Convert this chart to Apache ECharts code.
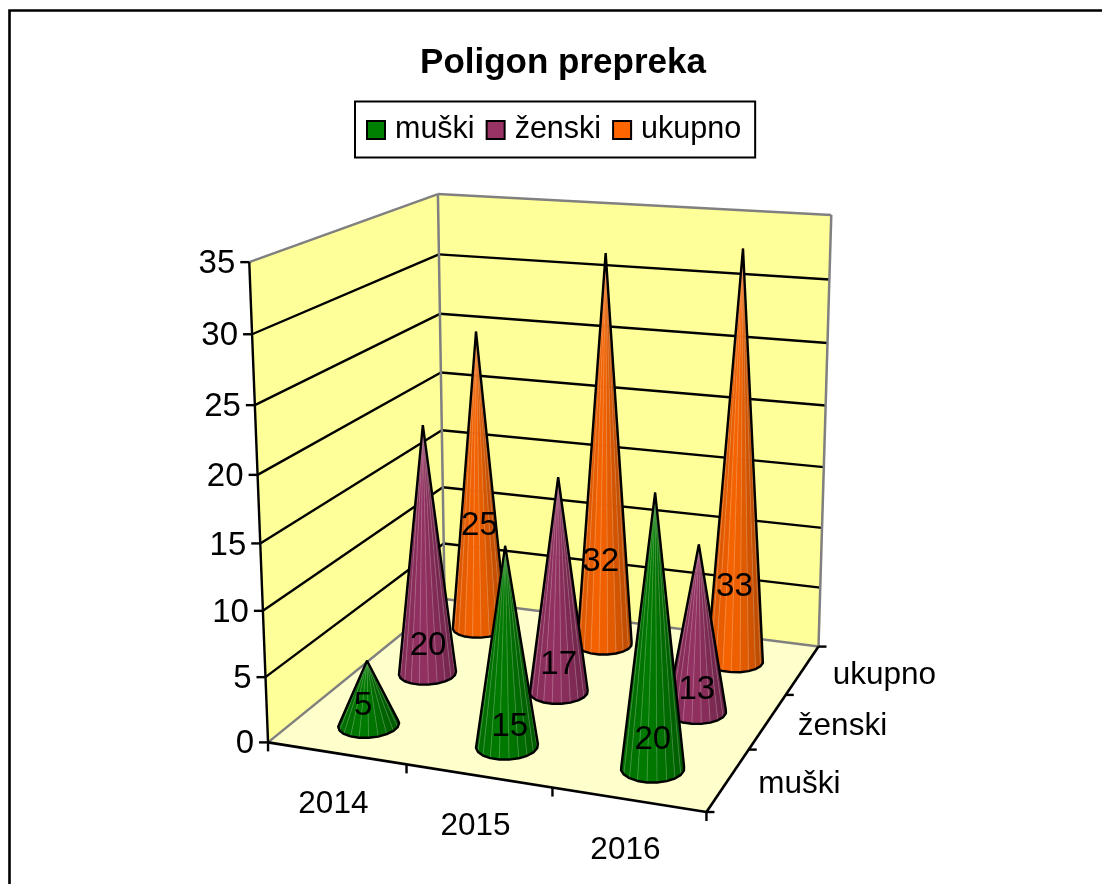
<!DOCTYPE html>
<html><head><meta charset="utf-8">
<style>html,body{margin:0;padding:0;background:#fff}#c{width:1102px;height:884px}</style>
<script src="https://cdn.jsdelivr.net/npm/echarts@6/dist/echarts.min.js"></script>
</head><body><div id="c"></div>
<script>
// ---- data ----
const years = ['2014', '2015', '2016'];
const seriesNames = ['muški', 'ženski', 'ukupno'];
const muski = [5, 15, 20];
const zenski = [20, 17, 13];
const ukupno = [25, 32, 33];
const yTicks = [0, 5, 10, 15, 20, 25, 30, 35];
const yMax = 35;
const seriesValues = [muski, zenski, ukupno];

// ---- style and layout ----
const seriesColors = ['#008000', '#993366', '#FF6600'];
const fontFamily = '"Liberation Sans", Arial, sans-serif';
const labelLift = [[1.45, 1.5, 2.1], [2.3, 2.2, 1.7], [8.8, 6.95, 6.2]];
const labelShift = [[-5, 3, 0], [1, 0, 0], [1, -4, -2]];
const coneRadiusU = 0.067, coneRadiusV = 0.074, facets = 20;

// Camera of the 3D box: fitted from where its corners land on the page.
const boxAnchors = [
  [0,0,0,268,742],[1,0,0,706,813],[1,1,0,818,646],[0,1,0,446,600],
  [0,0,1,250,262],[0,1,1,437,194],[1,1,1,832,216],
  [0,0,3/7,260,543],[0,1,3/7,441,430],[1,1,3/7,824,466]
];
function fitCamera(pts) {
  const rows = [], rhs = [];
  pts.forEach(([u,v,h,x,y]) => {
    rows.push([u,v,h,1,0,0,0,0,-x*u,-x*v,-x*h]); rhs.push(x);
    rows.push([0,0,0,0,u,v,h,1,-y*u,-y*v,-y*h]); rhs.push(y);
  });
  const n = 11, A = [];
  for (let i = 0; i < n; i++) {
    A.push([]);
    for (let j = 0; j < n; j++) A[i].push(rows.reduce((s, r) => s + r[i]*r[j], 0));
    A[i].push(rows.reduce((s, r, k) => s + r[i]*rhs[k], 0));
  }
  for (let i = 0; i < n; i++) {
    let p = i;
    for (let k = i+1; k < n; k++) if (Math.abs(A[k][i]) > Math.abs(A[p][i])) p = k;
    [A[i], A[p]] = [A[p], A[i]];
    for (let k = 0; k < n; k++) if (k !== i) {
      const f = A[k][i] / A[i][i];
      for (let j = i; j <= n; j++) A[k][j] -= f * A[i][j];
    }
  }
  return A.map((r, i) => r[n] / r[i]);
}
const cam = fitCamera(boxAnchors);
function proj(u, v, h) {
  const w = cam[8]*u + cam[9]*v + cam[10]*h + 1;
  return [(cam[0]*u + cam[1]*v + cam[2]*h + cam[3]) / w,
          (cam[4]*u + cam[5]*v + cam[6]*h + cam[7]) / w];
}
// Depth of a series row, in box units
const depthOf = s => (s + 0.5) / seriesNames.length;
// The hidden grid fills its box: axis scales give u (across) and h (up)
function boxPos(params, api, cat, val) {
  const c = api.coord([cat, val]), g = params.coordSys;
  return { u: (c[0] - g.x) / g.width, h: (g.y + g.height - c[1]) / g.height };
}
function shade(hex, f) {
  const n = parseInt(hex.slice(1), 16);
  const m = x => Math.max(0, Math.min(255, Math.round(x * f)));
  return `rgb(${m(n>>16&255)},${m(n>>8&255)},${m(n&255)})`;
}
function coneShape(params, api, s) {
  const { u, h } = boxPos(params, api, api.value(0), api.value(1));
  const v = depthOf(s);
  const apex = proj(u, v, h), base = [];
  for (let i = 0; i < facets; i++) {
    const a = (i + 0.5) / facets * 2 * Math.PI;
    base.push(proj(u + coneRadiusU*Math.cos(a), v + coneRadiusV*Math.sin(a), 0));
  }
  const ang = base.map(p => Math.atan2(p[0]-apex[0], p[1]-apex[1]));
  const iL = ang.indexOf(Math.min(...ang)), iR = ang.indexOf(Math.max(...ang));
  const walk = step => { const r = [iL]; let i = iL; while (i !== iR) { i = (i+step+facets)%facets; r.push(i); } return r; };
  const a1 = walk(1), a2 = walk(-1);
  const my = a => a.reduce((t,i) => t + base[i][1], 0) / a.length;
  const arc = (my(a1) > my(a2) ? a1 : a2).map(i => base[i]);
  const color = seriesColors[s], children = [];
  const x0 = arc[0][0], x1 = arc[arc.length-1][0];
  for (let i = 0; i < arc.length - 1; i++) {
    const t = ((arc[i][0]+arc[i+1][0])/2 - x0) / (x1 - x0);
    const f = t < 0.35 ? 0.84 + 0.12*t/0.35 : 0.96 - 0.26*Math.pow((t-0.35)/0.65, 1.6);
    const fill = shade(color, f);
    children.push({ type:'polygon', shape:{points:[arc[i],arc[i+1],apex]},
      style:{fill, stroke:fill, lineWidth:0.6}, silent:true });
  }
  for (let i = 1; i < arc.length - 1; i++) {
    children.push({ type:'line', shape:{x1:arc[i][0],y1:arc[i][1],x2:apex[0],y2:apex[1]},
      style:{stroke:'#ffffff', opacity:0.24, lineWidth:0.9}, silent:true });
  }
  children.push({ type:'polygon', shape:{points:[apex, ...arc]},
    style:{fill:'none', stroke:'#000', lineWidth:2.4, lineJoin:'bevel'}, silent:true });
  return { type:'group', children };
}
function seg(a, b, stroke, lineWidth) {
  return { type:'line', shape:{x1:a[0],y1:a[1],x2:b[0],y2:b[1]}, style:{stroke, lineWidth}, silent:true };
}
function txt(text, x, y, align, size) {
  return { type:'text', x, y, silent:true, style:{ text:String(text), fill:'#000',
    font:`${size}px ${fontFamily}`, textAlign:align, textVerticalAlign:'middle' } };
}
function boxShape(params, api) {
  const grey = '#808080', kids = [];
  const poly = (pts, fill) => ({ type:'polygon', shape:{points:pts.map(p => proj(...p))}, style:{fill}, silent:true });
  kids.push(poly([[0,0,0],[0,1,0],[0,1,1],[0,0,1]], '#FFFF99'));
  kids.push(poly([[0,1,0],[1,1,0],[1,1,1],[0,1,1]], '#FFFF99'));
  kids.push(poly([[0,0,0],[1,0,0],[1,1,0],[0,1,0]], '#FFFFCC'));
  yTicks.forEach(t => {
    const { h } = boxPos(params, api, 0, t);
    const a = proj(0,0,h), b = proj(0,1,h), c = proj(1,1,h);
    if (t > 0 && t < yMax) { kids.push(seg(a,b,'#000',2.4)); kids.push(seg(b,c,'#000',2.4)); }
    kids.push(seg([a[0]-9,a[1]], a, '#000', 2.4));
    kids.push(txt(t, a[0]-14, a[1]+2, 'right', 33));
  });
  [[[0,1,0],[0,1,1]],[[0,1,1],[0,0,1]],[[0,1,1],[1,1,1]],[[1,1,1],[1,1,0]],[[0,0,0],[0,1,0]],[[0,1,0],[1,1,0]]]
    .forEach(([p,q]) => kids.push(seg(proj(...p), proj(...q), grey, 2.5)));
  kids.push(seg(proj(0,0,0), proj(0,0,1), '#000', 2.4));
  kids.push(seg(proj(0,0,0), proj(1,0,0), '#000', 2.6));
  kids.push(seg(proj(1,0,0), proj(1,1,0), '#000', 2.6));
  for (let i = 0; i <= years.length; i++) {
    const p = proj(i/years.length, 0, 0);
    kids.push(seg(p, [p[0], p[1]+9], '#000', 2.4));
  }
  for (let i = 0; i <= seriesNames.length; i++) {
    const p = proj(1, i/seriesNames.length, 0);
    kids.push(seg(p, [p[0]+8, p[1]], '#000', 2.4));
  }
  years.forEach((y, i) => {
    const p = proj((i+0.5)/years.length, 0, 0);
    kids.push(txt(y, p[0]-3, p[1]+51, 'center', 31.5));
  });
  seriesNames.forEach((n, s) => {
    const p = proj(1, depthOf(s), 0);
    kids.push(txt(n, p[0]+30, p[1]+5, 'left', 31.5));
  });
  return { type:'group', children:kids };
}
const labelData = [];
seriesValues.forEach((vals, s) => vals.forEach((val, c) => labelData.push([c, labelLift[s][c], val, s])));

const coneSeries = seriesNames.map((name, s) => ({
  type:'custom', name, coordinateSystem:'cartesian2d', clip:false, silent:true,
  z: 10 - s, itemStyle:{ color: seriesColors[s] },
  data: seriesValues[s].map((val, c) => [c, val]),
  encode:{ x:0, y:1 },
  renderItem:(params, api) => coneShape(params, api, s)
}));

const chart = echarts.init(document.getElementById('c'));
chart.setOption({
  animation:false, backgroundColor:'#fff',
  title:{ text:'Poligon prepreka', left:558, top:41, textAlign:'center',
    textStyle:{ fontFamily, fontWeight:'bold', fontSize:35, color:'#000' } },
  legend:{ data:seriesNames, left:355, top:101.5, icon:'rect', orient:'horizontal',
    itemWidth:18, itemHeight:18, itemGap:11, padding:[13,14,12,11],
    backgroundColor:'#fff', borderColor:'#000', borderWidth:2, selectedMode:false,
    itemStyle:{ borderColor:'#000', borderWidth:2 },
    textStyle:{ fontFamily, fontSize:30.5, color:'#000', padding:[0,0,0,5] } },
  grid:{ left:0, right:0, top:0, bottom:0 },
  xAxis:{ type:'category', data:years, show:false },
  yAxis:{ type:'value', min:0, max:yMax, interval:5, show:false },
  tooltip:{ show:false },
  graphic:[{ type:'polyline', silent:true, z:100,
    shape:{ points:[[9.5,884],[9.5,10.5],[1102,10.5]] }, style:{ fill:'none', stroke:'#000', lineWidth:2.6 } }],
  series:[
    { type:'custom', name:'box', coordinateSystem:'cartesian2d', clip:false, silent:true, z:1,
      data:[[0,0]], encode:{x:0,y:1}, renderItem:boxShape },
    ...coneSeries,
    { type:'custom', name:'labels', coordinateSystem:'cartesian2d', clip:false, silent:true, z:20,
      data:labelData, encode:{x:0,y:1},
      renderItem:(params, api) => {
        const s = api.value(3), c = api.value(0);
        const { u, h } = boxPos(params, api, c, api.value(1));
        const p = proj(u, depthOf(s), h);
        return txt(api.value(2), p[0] + labelShift[s][c], p[1], 'center', 33);
      } }
  ]
});
</script></body></html>
